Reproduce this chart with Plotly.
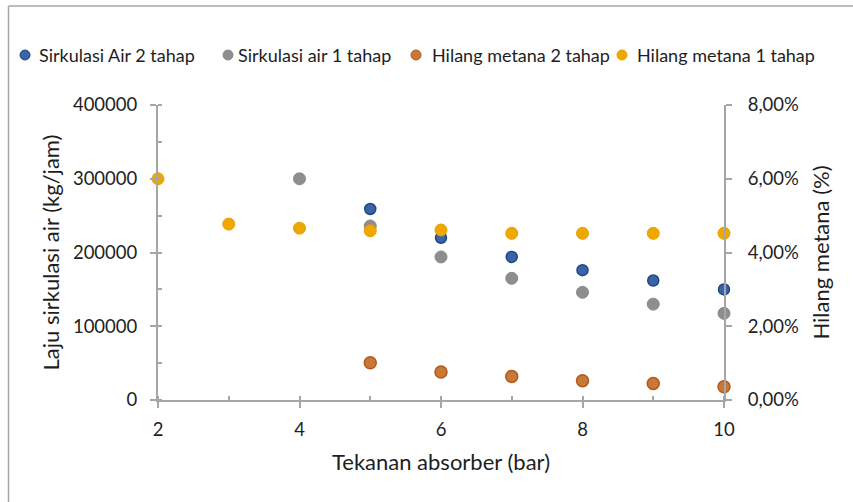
import plotly.graph_objects as go

# Left axis series (kg/jam)
air_2_x = [5, 6, 7, 8, 9, 10]
air_2 = [259000, 220000, 194000, 176000, 162000, 150000]
air_1_x = [4, 5, 6, 7, 8, 9, 10]
air_1 = [300000, 236000, 194000, 165000, 146000, 130000, 117500]

# Right axis series (fraction)
loss_2_x = [5, 6, 7, 8, 9, 10]
loss_2 = [0.0101, 0.0076, 0.0064, 0.0052, 0.0045, 0.0036]
loss_1_x = [2, 3, 4, 5, 6, 7, 8, 9, 10]
loss_1 = [0.0600, 0.0477, 0.0466, 0.0459, 0.0461, 0.0452, 0.0452, 0.0452, 0.0452]

series_names = ["Sirkulasi Air 2 tahap", "Sirkulasi air 1 tahap",
                "Hilang metana 2 tahap", "Hilang metana 1 tahap"]

left_ticks = [0, 100000, 200000, 300000, 400000]
left_ticklabels = ["0", "100000", "200000", "300000", "400000"]
right_ticks = [0, 0.02, 0.04, 0.06, 0.08]
right_ticklabels = ["0,00%", "2,00%", "4,00%", "6,00%", "8,00%"]
x_ticks = [2, 4, 6, 8, 10]

FONT = "Lato, 'Open Sans', sans-serif"
AX = "#A6A6A6"
TXT = "#1E1E1E"

fills = ["#3A64A6", "#8E8E8E", "#C87838", "#EFA800"]
edges = ["#1F4788", "#8A8A8A", "#B05A1C", "#E8A000"]

fig = go.Figure()
fig.add_trace(go.Scatter(x=air_2_x, y=air_2, mode="markers", name=series_names[0], cliponaxis=False,
                         marker=dict(size=11, color=fills[0], line=dict(color=edges[0], width=1.5)),
                         yaxis="y"))
fig.add_trace(go.Scatter(x=air_1_x, y=air_1, mode="markers", name=series_names[1], cliponaxis=False,
                         marker=dict(size=12, color=fills[1], line=dict(color=edges[1], width=1)),
                         yaxis="y"))
fig.add_trace(go.Scatter(x=loss_2_x, y=loss_2, mode="markers", name=series_names[2], cliponaxis=False,
                         marker=dict(size=12, color=fills[2], line=dict(color=edges[2], width=1.5)),
                         yaxis="y2"))
fig.add_trace(go.Scatter(x=loss_1_x, y=loss_1, mode="markers", name=series_names[3], cliponaxis=False,
                         marker=dict(size=12, color=fills[3], line=dict(color=edges[3], width=1)),
                         yaxis="y2"))

L, R, T, B = 158, 853 - 724, 105, 502 - 400
pw = 853 - L - R
ph = 502 - T - B

def px_x(p):
    return (p - L) / pw

def px_y(p):
    return (502 - B - p) / ph

tick_font = dict(size=18.5, family=FONT, color=TXT)
title_font = dict(size=22, family=FONT, color=TXT)

fig.update_layout(
    width=853, height=502,
    margin=dict(l=L, r=R, t=T, b=B, autoexpand=False),
    paper_bgcolor="white", plot_bgcolor="white",
    font=dict(family=FONT, size=17, color=TXT),
    showlegend=False,
    xaxis=dict(range=[2, 10], tickvals=x_ticks, showgrid=False, zeroline=False, automargin=False,
               showline=True, linecolor=AX, linewidth=2,
               ticks="outside", ticklen=6, tickcolor=AX, tickwidth=2, ticklabelstandoff=6,
               minor=dict(dtick=1, ticks="inside", ticklen=4, tickcolor=AX, tickwidth=2),
               tickfont=tick_font,
               title=dict(text="Tekanan absorber (bar)", font=title_font, standoff=15)),
    yaxis=dict(range=[0, 400000], tickvals=left_ticks, ticktext=left_ticklabels, showgrid=False,
               zeroline=False, automargin=False,
               showline=True, linecolor=AX, linewidth=2,
               ticks="outside", ticklen=6, tickcolor=AX, tickwidth=2, ticklabelstandoff=9,
               minor=dict(dtick=50000, ticks="inside", ticklen=4, tickcolor=AX, tickwidth=2),
               tickfont=tick_font,
               title=dict(text="Laju sirkulasi air (kg/jam)", font=title_font, standoff=7)),
    yaxis2=dict(range=[0, 0.08], tickvals=right_ticks, ticktext=right_ticklabels, overlaying="y",
                side="right", showgrid=False, zeroline=False, automargin=False,
                showline=True, linecolor=AX, linewidth=2,
                ticks="outside", ticklen=6, tickcolor=AX, tickwidth=2, ticklabelstandoff=12,
                tickfont=tick_font,
                title=dict(text="Hilang metana (%)", font=title_font, standoff=16)),
)

# Manual legend row (swatch + label), matching the reference's placement
swatch_px = [25, 228, 416, 622]
label_px = [37, 236, 430, 635]
legend_y = px_y(55)
for name, sx, lx, fc, ec in zip(series_names, swatch_px, label_px, fills, edges):
    fig.add_shape(type="circle", xref="paper", yref="paper",
                  xsizemode="pixel", ysizemode="pixel",
                  xanchor=px_x(sx), yanchor=legend_y,
                  x0=-5, x1=5, y0=-5, y1=5,
                  fillcolor=fc, line=dict(color=ec, width=1))
    fig.add_annotation(text=name, xref="paper", yref="paper", x=px_x(lx), y=legend_y,
                       xanchor="left", yanchor="middle", showarrow=False,
                       font=dict(size=18, family=FONT, color=TXT))

# Outer frame (left and top edges)
x0 = px_x(8.5)
fig.add_shape(type="line", xref="paper", yref="paper", x0=x0, x1=px_x(853), y0=px_y(6), y1=px_y(6),
              line=dict(color="#A6A6A6", width=1.5))
fig.add_shape(type="line", xref="paper", yref="paper", x0=x0, x1=x0, y0=px_y(6), y1=px_y(502),
              line=dict(color="#A6A6A6", width=1.5))

fig.write_html("out.html", config={"displayModeBar": False},
               post_script="document.body.style.margin='0';")
